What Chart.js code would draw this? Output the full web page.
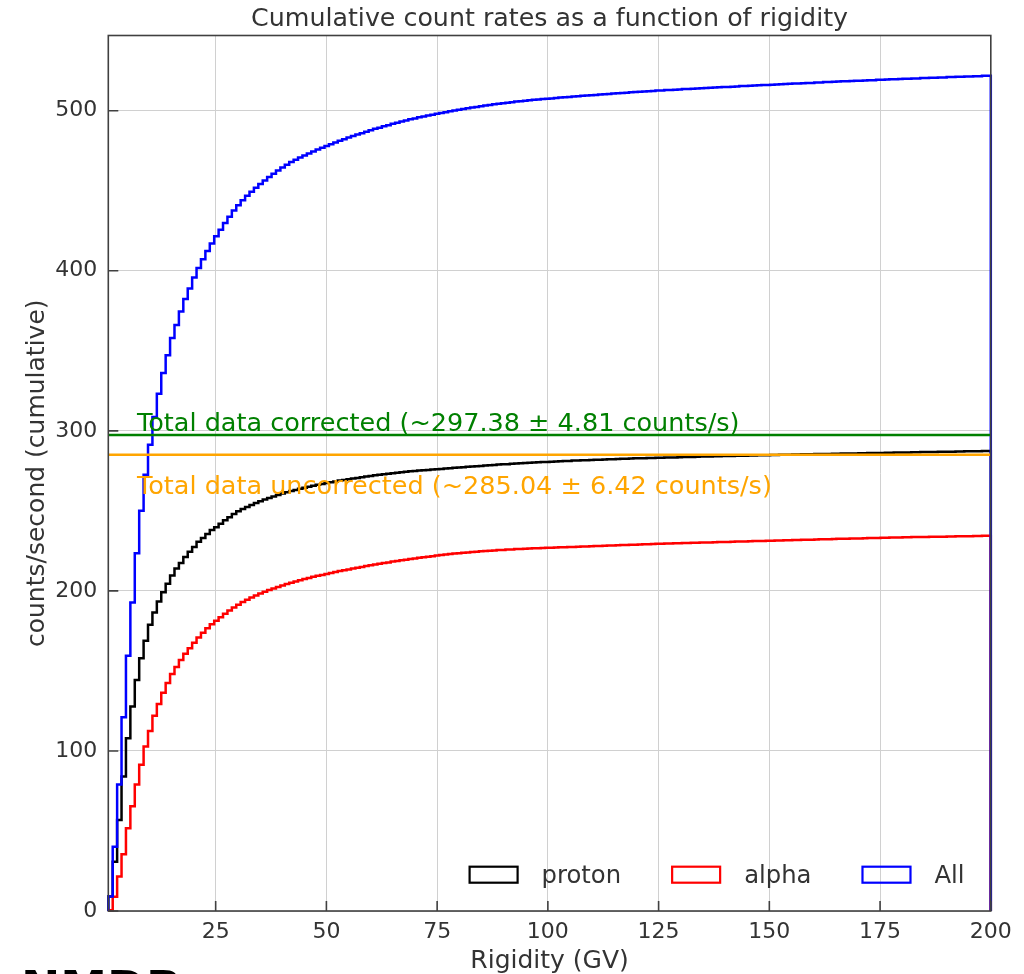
<!DOCTYPE html>
<html><head><meta charset="utf-8">
<script src="https://cdn.jsdelivr.net/npm/chart.js@4.4.1/dist/chart.umd.min.js"></script>
<style>
html,body{margin:0;padding:0;width:1024px;height:974px;overflow:hidden;background:#fff;}
#wrap{position:relative;width:1024px;height:974px;overflow:hidden;}
canvas{display:block;}
#logo{position:absolute;left:21px;top:964px;font-family:'DejaVu Sans',sans-serif;font-weight:bold;font-size:47px;line-height:47px;color:#000;white-space:nowrap;}
</style></head>
<body><div id="wrap"><canvas id="c" width="1024" height="974"></canvas><div id="logo">NMDB</div></div>
<script>
// ---- histogram binning (rigidity, GV) ----
const binStart = 0.76;
const binEnd = 200;
const binCount = 200;

// ---- tick labels ----
const xTicks = [25, 50, 75, 100, 125, 150, 175, 200];
const yTicks = [0, 100, 200, 300, 400, 500];
const yMax = 547;

// ---- text ----
const chartTitle = 'Cumulative count rates as a function of rigidity';
const xTitle = 'Rigidity (GV)';
const yTitle = 'counts/second (cumulative)';
const seriesLabels = ['proton', 'alpha', 'All'];
const seriesColors = ['#000000', '#ff0000', '#0000ff'];

// ---- reference totals ----
const correctedTotal = 297.38, correctedErr = 4.81;
const uncorrectedTotal = 285.04, uncorrectedErr = 6.42;

// ---- cumulative counts/s per rigidity bin ----
const proton = [9.0,30.8,56.9,84.0,107.9,127.7,144.4,157.9,168.9,178.8,
186.5,193.3,199.2,204.4,209.6,214.0,217.5,221.1,224.5,227.5,
230.7,233.1,235.6,238.0,239.8,241.9,244.1,246.0,248.0,249.7,
251.1,252.4,253.7,254.9,256.0,257.1,258.1,259.0,259.9,260.8,
261.6,262.4,263.1,263.8,264.5,265.1,265.7,266.3,266.8,267.4,
267.9,268.4,268.9,269.3,269.8,270.2,270.6,271.0,271.4,271.8,
272.2,272.5,272.9,273.2,273.5,273.8,274.1,274.4,274.7,274.9,
275.2,275.4,275.6,275.8,276.0,276.2,276.4,276.6,276.9,277.1,
277.3,277.5,277.7,277.9,278.1,278.3,278.5,278.7,278.9,279.1,
279.2,279.4,279.6,279.7,279.9,280.1,280.2,280.3,280.5,280.6,
280.7,280.9,281.0,281.1,281.2,281.4,281.5,281.6,281.7,281.8,
281.9,282.0,282.1,282.2,282.3,282.4,282.5,282.6,282.7,282.8,
282.8,282.9,283.0,283.1,283.2,283.2,283.3,283.4,283.4,283.5,
283.6,283.7,283.7,283.8,283.9,283.9,284.0,284.1,284.1,284.2,
284.3,284.3,284.4,284.5,284.5,284.6,284.6,284.7,284.8,284.8,
284.9,284.9,285.0,285.1,285.1,285.2,285.2,285.3,285.4,285.4,
285.5,285.5,285.6,285.6,285.7,285.7,285.8,285.8,285.9,285.9,
286.0,286.0,286.1,286.1,286.2,286.2,286.3,286.3,286.4,286.4,
286.5,286.5,286.6,286.6,286.7,286.7,286.8,286.8,286.9,286.9,
287.0,287.0,287.1,287.1,287.2,287.2,287.3,287.3,287.4,287.4];

const alpha = [0.5,8.9,21.5,35.5,51.7,65.4,79.0,91.3,102.7,112.5,
122.0,129.4,136.4,142.4,148.0,152.4,156.8,160.8,164.2,167.6,
170.9,173.8,176.6,179.2,181.4,183.6,185.7,187.7,189.6,191.4,
193.0,194.5,195.8,197.1,198.3,199.4,200.5,201.5,202.5,203.4,
204.3,205.1,205.9,206.7,207.4,208.1,208.8,209.4,210.0,210.6,
211.2,211.8,212.4,212.9,213.4,214.0,214.5,215.0,215.5,216.0,
216.5,216.9,217.4,217.8,218.3,218.7,219.1,219.5,219.9,220.3,
220.7,221.0,221.4,221.7,222.1,222.4,222.7,223.0,223.3,223.5,
223.8,224.0,224.3,224.5,224.7,224.9,225.1,225.3,225.5,225.6,
225.8,225.9,226.1,226.2,226.4,226.5,226.6,226.7,226.8,226.9,
227.0,227.1,227.2,227.3,227.4,227.5,227.6,227.7,227.8,227.9,
228.0,228.1,228.2,228.3,228.4,228.5,228.6,228.7,228.8,228.9,
229.0,229.1,229.2,229.3,229.4,229.5,229.6,229.6,229.7,229.8,
229.9,229.9,230.0,230.1,230.2,230.3,230.3,230.4,230.5,230.6,
230.6,230.7,230.8,230.9,230.9,231.0,231.1,231.2,231.2,231.3,
231.4,231.5,231.5,231.6,231.7,231.8,231.8,231.9,232.0,232.0,
232.1,232.2,232.3,232.3,232.4,232.5,232.6,232.6,232.7,232.8,
232.8,232.9,233.0,233.0,233.1,233.2,233.2,233.3,233.3,233.4,
233.5,233.5,233.6,233.6,233.7,233.7,233.8,233.8,233.9,233.9,
234.0,234.0,234.1,234.1,234.2,234.2,234.3,234.3,234.4,234.4];

const allParticles = [9.0,40.2,79.0,121.0,159.5,192.7,223.5,250.0,272.5,291.3,
308.7,323.2,336.2,347.2,358.0,366.1,374.6,382.4,389.0,395.8,
401.8,407.2,412.3,417.1,421.5,425.6,429.8,433.8,437.6,441.0,
444.0,446.8,449.4,451.9,454.2,456.4,458.6,460.6,462.6,464.5,
466.3,467.9,469.4,470.8,472.1,473.3,474.5,475.7,476.8,478.0,
479.1,480.2,481.3,482.2,483.2,484.2,485.1,486.0,486.9,487.8,
488.7,489.4,490.3,491.0,491.8,492.5,493.2,493.9,494.6,495.2,
495.9,496.4,497.0,497.5,498.1,498.6,499.1,499.6,500.2,500.6,
501.1,501.5,502.0,502.4,502.8,503.2,503.6,504.0,504.4,504.7,
505.0,505.3,505.7,505.9,506.3,506.6,506.8,507.0,507.3,507.5,
507.7,508.0,508.2,508.4,508.6,508.9,509.1,509.3,509.5,509.7,
509.9,510.1,510.3,510.5,510.7,510.9,511.1,511.3,511.5,511.7,
511.8,512.0,512.2,512.4,512.6,512.7,512.9,513.0,513.1,513.3,
513.5,513.6,513.7,513.9,514.1,514.2,514.3,514.5,514.6,514.8,
514.9,515.0,515.2,515.4,515.4,515.6,515.7,515.9,516.0,516.1,
516.3,516.4,516.5,516.7,516.8,517.0,517.0,517.2,517.4,517.4,
517.6,517.7,517.9,517.9,518.1,518.2,518.4,518.4,518.6,518.7,
518.8,518.9,519.1,519.1,519.3,519.4,519.5,519.6,519.7,519.8,
520.0,520.0,520.2,520.2,520.4,520.4,520.6,520.6,520.8,520.8,
521.0,521.0,521.2,521.2,521.4,521.4,521.6,521.6,521.8,521.8];

// ---- build step-histogram outlines ----
const binWidth = (binEnd - binStart) / binCount;
function stepOutline(values) {
  const pts = [{x: binStart, y: 0}];
  values.forEach((v, i) => pts.push({x: binStart + i * binWidth, y: v}));
  pts.push({x: binEnd, y: 0});
  return pts;
}
const seriesValues = [proton, alpha, allParticles];

const annotations = [
  {text: `Total data corrected (~${correctedTotal} \u00b1 ${correctedErr} counts/s)`, color: '#008000', x: 7.24, y: 300.2},
  {text: `Total data uncorrected (~${uncorrectedTotal} \u00b1 ${uncorrectedErr} counts/s)`, color: '#ffa500', x: 7.24, y: 260.6}
];

Chart.defaults.font.family = "'DejaVu Sans', sans-serif";
Chart.defaults.color = '#333';

const datasets = seriesValues.map((vals, i) => ({
  label: seriesLabels[i],
  data: stepOutline(vals),
  borderColor: seriesColors[i],
  backgroundColor: seriesColors[i],
  borderWidth: 2.5,
  stepped: 'before',
  pointRadius: 0,
  fill: false,
  clip: false,
  order: 3 - i,
  borderJoinStyle: 'miter'
}));
datasets.push({
  label: 'corrected', data: [{x: binStart, y: correctedTotal}, {x: binEnd, y: correctedTotal}],
  borderColor: '#008000', borderWidth: 2.6, pointRadius: 0, fill: false, clip: false, order: 0
});
datasets.push({
  label: 'uncorrected', data: [{x: binStart, y: uncorrectedTotal}, {x: binEnd, y: uncorrectedTotal}],
  borderColor: '#ffa500', borderWidth: 2.6, pointRadius: 0, fill: false, clip: false, order: 0
});

const decor = {
  id: 'decor',
  afterDatasetsDraw(chart) {
    const {ctx, chartArea: a, scales: {x, y}} = chart;
    ctx.save();
    // frame
    ctx.strokeStyle = '#404040';
    ctx.lineWidth = 1.6;
    ctx.strokeRect(a.left, a.top, a.right - a.left, a.bottom - a.top);
    // inward ticks
    ctx.beginPath();
    xTicks.forEach(v => { const px = x.getPixelForValue(v); ctx.moveTo(px, a.bottom); ctx.lineTo(px, a.bottom - 10); });
    yTicks.forEach(v => { const py = y.getPixelForValue(v); ctx.moveTo(a.left, py); ctx.lineTo(a.left + 10, py); });
    ctx.stroke();
    // annotation texts
    ctx.font = "25.5px 'DejaVu Sans'";
    ctx.textAlign = 'left';
    ctx.textBaseline = 'alphabetic';
    annotations.forEach(t => {
      ctx.fillStyle = t.color;
      ctx.fillText(t.text, x.getPixelForValue(t.x), y.getPixelForValue(t.y));
    });
    // legend (inside, lower right)
    ctx.font = "24.3px 'DejaVu Sans'";
    ctx.lineWidth = 2.2;
    const boxW = 48, boxH = 16, textGap = 24, colGap = 51;
    const baseY = a.bottom - 27.7;
    let bx = a.left + 361.3;
    seriesLabels.forEach((lab, i) => {
      ctx.strokeStyle = seriesColors[i];
      ctx.strokeRect(bx, baseY - 16.6, boxW, boxH);
      ctx.fillStyle = '#333';
      ctx.fillText(lab, bx + boxW + textGap, baseY);
      bx += boxW + textGap + ctx.measureText(lab).width + colGap;
    });
    ctx.restore();
  }
};

new Chart(document.getElementById('c'), {
  type: 'line',
  data: {datasets},
  options: {
    responsive: false,
    animation: false,
    devicePixelRatio: 1,
    layout: {padding: {left: 0, right: 33.2, top: 0, bottom: 0}},
    plugins: {
      legend: {display: false},
      tooltip: {enabled: false},
      title: {display: true, text: chartTitle, fullSize: false, color: '#333',
              font: {size: 25.3, weight: 'normal', lineHeight: 1.2}, padding: {top: 4.6, bottom: 0.54}}
    },
    scales: {
      x: {
        type: 'linear', min: binStart, max: binEnd,
        afterBuildTicks: s => { s.ticks = xTicks.map(v => ({value: v})); },
        afterFit: s => { s.height = 63; },
        grid: {color: '#d0d0d0', lineWidth: 1, drawTicks: false},
        border: {display: false},
        ticks: {font: {size: 22}, color: '#333', padding: 7.8, maxRotation: 0, autoSkip: false, callback: v => String(v)},
        title: {display: true, text: xTitle, color: '#333', font: {size: 25, lineHeight: 1.0}, padding: {top: 0, bottom: 0.3}}
      },
      y: {
        type: 'linear', min: 0, max: yMax,
        afterBuildTicks: s => { s.ticks = yTicks.map(v => ({value: v})); },
        afterFit: s => { s.width = 108.3; },
        grid: {color: '#d0d0d0', lineWidth: 1, drawTicks: false},
        border: {display: false},
        ticks: {font: {size: 22}, color: '#333', padding: 11, callback: v => String(v)},
        title: {display: true, text: yTitle, color: '#333', font: {size: 25}, padding: {top: 22.4, bottom: 0}}
      }
    }
  },
  plugins: [decor]
});
</script></body></html>
